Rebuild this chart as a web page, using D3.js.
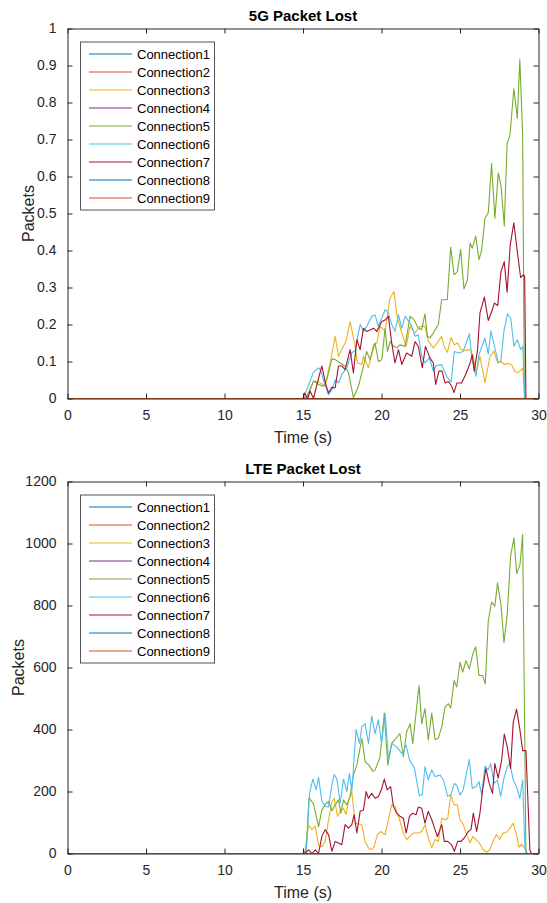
<!DOCTYPE html>
<html>
<head>
<meta charset="utf-8">
<script src="https://cdnjs.cloudflare.com/ajax/libs/d3/7.8.5/d3.min.js"></script>
<style>
  body { margin: 0; background: #fff; }
  text { font-family: "Liberation Sans", Arial, sans-serif; fill: #262626; }
</style>
</head>
<body>
<svg id="chart"></svg>
<script>
//-------------------------------------------------
// Data (time in s, value)
//-------------------------------------------------
var connNames = ["Connection1","Connection2","Connection3","Connection4","Connection5",
                 "Connection6","Connection7","Connection8","Connection9"];
var connColors = ["#0072BD","#D95319","#EDB120","#7E2F8E","#77AC30",
                  "#4DBEEE","#A2142F","#0072BD","#D95319"];
var xTicks = [0, 5, 10, 15, 20, 25, 30];
var yTicks5G = [0, 0.1, 0.2, 0.3, 0.4, 0.5, 0.6, 0.7, 0.8, 0.9, 1];
var yTicksLTE = [0, 200, 400, 600, 800, 1000, 1200];

// connections that never lose a packet
var zeroLine = [[0,0],[30,0]];

var fiveG_conn3 = [[0,0],[15,0],[15.3,0.005],[15.67,0.047],[15.99,0.045],[16.4,0.034],[16.73,0.096],[17.05,0.168],
  [17.26,0.114],[17.58,0.141],[17.73,0.154],[18.0,0.208],[18.28,0.15],[18.47,0.096],[18.74,0.092],[18.85,0.114],
  [19.17,0.083],[19.49,0.145],[19.7,0.15],[19.91,0.195],[20.23,0.182],[20.54,0.271],[20.8,0.289],[20.99,0.222],
  [21.29,0.177],[21.57,0.141],[21.82,0.195],[22.13,0.177],[22.45,0.195],[22.77,0.195],[22.98,0.155],[23.3,0.137],
  [23.55,0.15],[23.83,0.168],[24.0,0.14],[24.2,0.125],[24.43,0.165],[24.64,0.145],[24.85,0.15],[25.04,0.134],
  [25.3,0.13],[25.64,0.132],[25.85,0.114],[26.02,0.069],[26.27,0.114],[26.59,0.042],[26.91,0.114],[27.16,0.128],
  [27.4,0.096],[27.6,0.1],[27.83,0.092],[28.1,0.095],[28.3,0.09],[28.5,0.073],[28.7,0.07],[28.9,0.078],
  [29.0,0.083],[29.13,0],[30,0]];

var fiveG_conn5 = [[0,0],[15,0],[15.25,0.006],[15.67,0.047],[15.99,0.038],[16.31,0.033],[16.52,0.051],[16.84,0.107],
  [17.05,0.105],[17.37,0.096],[17.68,0.087],[17.9,0.069],[18.21,0.002],[18.53,0.033],[18.85,0.087],[19.06,0.127],
  [19.27,0.105],[19.59,0.15],[19.8,0.1],[20.02,0.105],[20.23,0.19],[20.38,0.127],[20.55,0.154],[20.76,0.141],
  [20.97,0.137],[21.18,0.145],[21.5,0.141],[21.82,0.222],[22.07,0.213],[22.35,0.19],[22.56,0.186],[22.77,0.229],
  [22.92,0.168],[23.09,0.164],[23.3,0.177],[23.62,0.2],[23.83,0.267],[24.19,0.267],[24.41,0.409],[24.62,0.334],
  [24.83,0.343],[25.04,0.403],[25.25,0.296],[25.47,0.321],[25.64,0.42],[25.78,0.406],[26.0,0.439],[26.21,0.375],
  [26.38,0.401],[26.59,0.487],[26.8,0.502],[27.01,0.635],[27.22,0.487],[27.44,0.61],[27.62,0.572],[27.82,0.466],
  [28.0,0.689],[28.18,0.711],[28.43,0.837],[28.65,0.757],[28.81,0.916],[28.99,0.716],[29.1,0],[30,0]];

var fiveG_conn6 = [[0,0],[15,0],[15.3,0.03],[15.65,0.07],[15.99,0.083],[16.1,0.078],[16.31,0.05],[16.62,0.01],
  [16.84,0.024],[17.05,0.05],[17.26,0.042],[17.47,0.065],[17.79,0.083],[18.1,0.123],[18.32,0.13],[18.64,0.2],
  [18.85,0.182],[19.06,0.195],[19.38,0.222],[19.59,0.226],[19.8,0.195],[20.23,0.24],[20.44,0.231],[20.65,0.2],
  [20.86,0.182],[21.08,0.226],[21.29,0.19],[21.5,0.222],[21.71,0.21],[21.93,0.195],[22.14,0.168],[22.35,0.172],
  [22.56,0.114],[22.77,0.096],[23.05,0.11],[23.3,0.074],[23.5,0.09],[23.83,0.091],[24.15,0.06],[24.43,0.044],
  [24.64,0.127],[24.9,0.123],[25.2,0.127],[25.6,0.175],[25.75,0.11],[26.02,0.06],[26.2,0.118],[26.59,0.163],
  [26.8,0.12],[26.97,0.182],[27.2,0.14],[27.43,0.098],[27.6,0.1],[27.8,0.182],[28.02,0.229],[28.23,0.217],
  [28.44,0.141],[28.65,0.159],[28.86,0.133],[29.0,0.14],[29.13,0],[30,0]];

var fiveG_conn7 = [[0,0],[15,0],[15.1,0.015],[15.3,0],[15.45,0.02],[15.67,0],[15.9,0.04],[16.2,0.088],[16.41,0.045],
  [16.62,0.015],[16.84,0.03],[17.05,0.029],[17.26,0.088],[17.47,0.088],[17.68,0.078],[18.0,0.132],[18.21,0.069],
  [18.43,0.159],[18.64,0.132],[18.85,0.19],[19.06,0.181],[19.27,0.185],[19.5,0.19],[19.7,0.181],[20.02,0.208],
  [20.23,0.212],[20.44,0.222],[20.65,0.15],[20.86,0.096],[21.08,0.132],[21.29,0.092],[21.6,0.123],[21.93,0.114],
  [22.14,0.154],[22.35,0.14],[22.6,0.083],[22.8,0.141],[23.09,0.109],[23.3,0.096],[23.45,0.038],[23.66,0.074],
  [23.85,0.074],[24.05,0.042],[24.26,0.046],[24.47,0.033],[24.62,0.016],[24.8,0.042],[25.1,0.042],[25.36,0.065],
  [25.64,0.096],[25.78,0.118],[25.91,0.074],[26.12,0.132],[26.27,0.231],[26.55,0.274],[26.8,0.211],[27.06,0.24],
  [27.19,0.258],[27.4,0.251],[27.61,0.343],[27.82,0.37],[28.0,0.287],[28.2,0.415],[28.43,0.475],[28.65,0.397],
  [28.86,0.327],[29.03,0.334],[29.12,0.33],[29.2,0],[30,0]];

var lte_conn3 = [[0,0],[15,0],[15.1,0],[15.35,91],[15.57,77],[15.78,88],[15.99,28],[16.2,22],[16.41,39],[16.63,109],
  [16.84,167],[16.99,178],[17.2,120],[17.37,135],[17.58,146],[17.74,125],[17.9,173],[18.11,197],[18.32,98],
  [18.53,95],[18.74,93],[18.95,39],[19.17,18],[19.38,12],[19.53,22],[19.74,61],[19.95,71],[20.23,61],[20.44,109],
  [20.65,157],[20.86,152],[21.01,130],[21.18,104],[21.39,66],[21.6,45],[21.81,55],[22.03,66],[22.35,66],
  [22.56,71],[22.77,93],[22.98,50],[23.2,18],[23.41,45],[23.62,39],[23.84,114],[24.05,109],[24.22,114],
  [24.41,189],[24.62,157],[24.83,157],[25.0,109],[25.21,93],[25.42,61],[25.64,34],[25.81,55],[26.02,45],
  [26.23,34],[26.48,12],[26.69,4],[26.9,12],[27.1,39],[27.32,61],[27.53,45],[27.74,66],[27.95,68],[28.18,82],
  [28.39,98],[28.6,61],[28.76,20],[28.91,30],[29.07,20],[29.28,0],[30,0]];

var lte_conn5 = [[0,0],[15,0],[15.2,10],[15.38,180],[15.67,160],[15.99,87],[16.2,140],[16.41,158],[16.63,168],
  [16.84,138],[17.05,157],[17.26,173],[17.41,130],[17.58,173],[17.79,157],[18.0,185],[18.21,253],[18.43,285],
  [18.75,371],[18.96,296],[19.2,285],[19.45,265],[19.59,269],[19.91,312],[20.18,453],[20.4,285],[20.65,355],
  [20.9,370],[21.17,387],[21.39,312],[21.6,392],[21.82,419],[21.99,355],[22.39,542],[22.56,419],[22.77,467],
  [22.98,366],[23.2,453],[23.41,368],[23.62,372],[23.84,409],[24.05,473],[24.26,483],[24.41,469],[24.62,558],
  [24.79,537],[25.0,617],[25.17,585],[25.38,622],[25.59,595],[25.81,643],[26.0,667],[26.21,574],[26.44,574],
  [26.61,547],[26.8,750],[27.01,811],[27.22,798],[27.39,873],[27.61,803],[27.8,681],[28.01,772],[28.22,959],
  [28.44,1018],[28.61,903],[28.82,932],[28.99,1029],[29.2,0],[30,0]];

var lte_conn6 = [[0,0],[15,0],[15.2,0],[15.42,195],[15.63,240],[15.84,206],[15.99,246],[16.2,170],[16.41,152],
  [16.62,150],[16.84,221],[16.99,255],[17.16,240],[17.37,162],[17.58,240],[17.79,200],[17.96,259],[18.11,200],
  [18.38,400],[18.6,355],[18.74,408],[18.95,419],[19.17,355],[19.38,443],[19.59,387],[19.8,432],[20.0,355],
  [20.23,451],[20.44,307],[20.65,355],[20.97,344],[21.29,323],[21.4,330],[21.57,350],[21.78,302],[22.1,275],
  [22.41,186],[22.6,190],[22.77,280],[22.98,237],[23.2,270],[23.41,248],[23.73,253],[23.95,237],[24.21,184],
  [24.42,190],[24.64,226],[24.79,220],[25.0,189],[25.2,205],[25.59,303],[25.78,210],[26.02,216],[26.21,232],
  [26.38,189],[26.59,282],[26.8,270],[26.95,290],[27.17,226],[27.38,237],[27.59,184],[27.8,243],[28.01,280],
  [28.18,290],[28.39,237],[28.6,215],[28.81,178],[28.99,237],[29.13,20],[29.28,0],[30,0]];

var lte_conn7 = [[0,0],[15,0],[15.1,0],[15.35,12],[15.57,0],[15.78,12],[15.99,0],[16.2,55],[16.41,77],[16.63,60],
  [16.84,7],[17.05,39],[17.26,34],[17.47,28],[17.68,93],[17.9,82],[18.11,93],[18.26,125],[18.43,66],[18.64,136],
  [18.85,140],[19.02,200],[19.17,178],[19.38,194],[19.59,178],[19.8,184],[20.0,207],[20.18,240],[20.36,205],
  [20.58,216],[20.76,152],[20.97,130],[21.18,120],[21.39,114],[21.57,66],[21.78,120],[21.99,130],[22.2,125],
  [22.35,150],[22.56,146],[22.77,98],[22.98,136],[23.2,109],[23.41,77],[23.56,55],[23.84,93],[24.0,39],
  [24.21,39],[24.47,28],[24.64,7],[24.85,39],[25.06,39],[25.27,50],[25.53,71],[25.7,77],[25.85,130],[26.06,71],
  [26.27,130],[26.44,205],[26.65,274],[26.86,226],[27.07,194],[27.22,290],[27.43,243],[27.65,300],[27.82,385],
  [28.01,344],[28.22,274],[28.39,423],[28.6,466],[28.81,401],[28.99,332],[29.2,332],[29.45,12],[29.55,0],[30,0]];

//-------------------------------------------------
var W = 547, H = 903;
var left = 67.5, right = 538.5;

var svg = d3.select("#chart")
  .attr("width", W)
  .attr("height", H);

// order is Connection1..9, so Connection9 ends up on top at zero
drawPanel({
  top: 28.5, bottom: 398.5,
  title: "5G Packet Lost",
  yMax: 1, yTicks: yTicks5G, yLabelX: 34,
  series: [zeroLine, zeroLine, fiveG_conn3, zeroLine, fiveG_conn5, fiveG_conn6, fiveG_conn7, zeroLine, zeroLine]
});

drawPanel({
  top: 481.5, bottom: 853.5,
  title: "LTE Packet Lost",
  yMax: 1200, yTicks: yTicksLTE, yLabelX: 24,
  series: [zeroLine, zeroLine, lte_conn3, zeroLine, lte_conn5, lte_conn6, lte_conn7, zeroLine, zeroLine]
});

function drawPanel(cfg){
  var x = d3.scaleLinear().domain([0, 30]).range([left, right]);
  var y = d3.scaleLinear().domain([0, cfg.yMax]).range([cfg.bottom, cfg.top]);

  var g = svg.append("g");

  // lines
  var line = d3.line()
    .x(function(d){ return x(d[0]); })
    .y(function(d){ return y(d[1]); });

  g.selectAll(".series")
    .data(cfg.series)
    .enter()
    .append("path")
    .attr("class", "series")
    .attr("d", line)
    .attr("fill", "none")
    .attr("stroke", function(d, i){ return connColors[i]; })
    .attr("stroke-width", 1.1)
    .attr("stroke-linejoin", "round");

  // axes with inward ticks on all four sides (box on)
  var tl = -5;
  g.append("g")
    .attr("transform", "translate(0," + cfg.bottom + ")")
    .call(d3.axisBottom(x).tickValues(xTicks).tickSizeInner(tl).tickSizeOuter(0).tickPadding(12))
    .call(styleAxis);
  g.append("g")
    .attr("transform", "translate(0," + cfg.top + ")")
    .call(d3.axisTop(x).tickValues(xTicks).tickSizeInner(tl).tickSizeOuter(0).tickFormat(""))
    .call(styleAxis);
  g.append("g")
    .attr("transform", "translate(" + left + ",0)")
    .call(d3.axisLeft(y).tickValues(cfg.yTicks).tickSizeInner(tl).tickSizeOuter(0).tickPadding(11)
      .tickFormat(function(d){ return d3.format("")(+d.toFixed(1)); }))
    .call(styleAxis);
  g.append("g")
    .attr("transform", "translate(" + right + ",0)")
    .call(d3.axisRight(y).tickValues(cfg.yTicks).tickSizeInner(tl).tickSizeOuter(0).tickFormat(""))
    .call(styleAxis);

  // labels
  var cx = (left + right) / 2;
  g.append("text")
    .attr("x", cx).attr("y", cfg.top - 8)
    .attr("text-anchor", "middle")
    .style("font-size", "15px").style("font-weight", "bold")
    .style("fill", "#000")
    .text(cfg.title);
  g.append("text")
    .attr("x", cx).attr("y", cfg.bottom + 44)
    .attr("text-anchor", "middle")
    .style("font-size", "16px")
    .text("Time (s)");
  g.append("text")
    .attr("transform", "translate(" + cfg.yLabelX + "," + ((cfg.top + cfg.bottom) / 2) + ") rotate(-90)")
    .attr("text-anchor", "middle")
    .style("font-size", "16px")
    .text("Packets");

  // legend
  var lx = 80.5, ly = cfg.top + 13.5;
  var key = g.append("g").attr("class", "legend");
  key.append("rect")
    .attr("x", lx).attr("y", ly)
    .attr("width", 134).attr("height", 168)
    .attr("fill", "#fff")
    .attr("stroke", "#555")
    .attr("stroke-width", 1);
  var rows = key.selectAll(".row")
    .data(connNames)
    .enter()
    .append("g")
    .attr("class", "row")
    .attr("transform", function(d, i){ return "translate(0," + (ly + 12 + 18 * i) + ")"; });
  rows.append("line")
    .attr("x1", 89).attr("x2", 132)
    .attr("stroke", function(d, i){ return connColors[i]; })
    .attr("stroke-width", 1.1);
  rows.append("text")
    .attr("x", 137)
    .attr("dy", "0.35em")
    .style("font-size", "13px")
    .style("fill", "#000")
    .text(function(d){ return d; });
}

function styleAxis(sel){
  sel.select(".domain").attr("stroke", "#262626");
  sel.selectAll(".tick line").attr("stroke", "#262626");
  sel.selectAll(".tick text")
    .style("font-size", "14px")
    .style("font-family", "'Liberation Sans', Arial, sans-serif")
    .attr("fill", "#262626");
}
</script>
</body>
</html>
